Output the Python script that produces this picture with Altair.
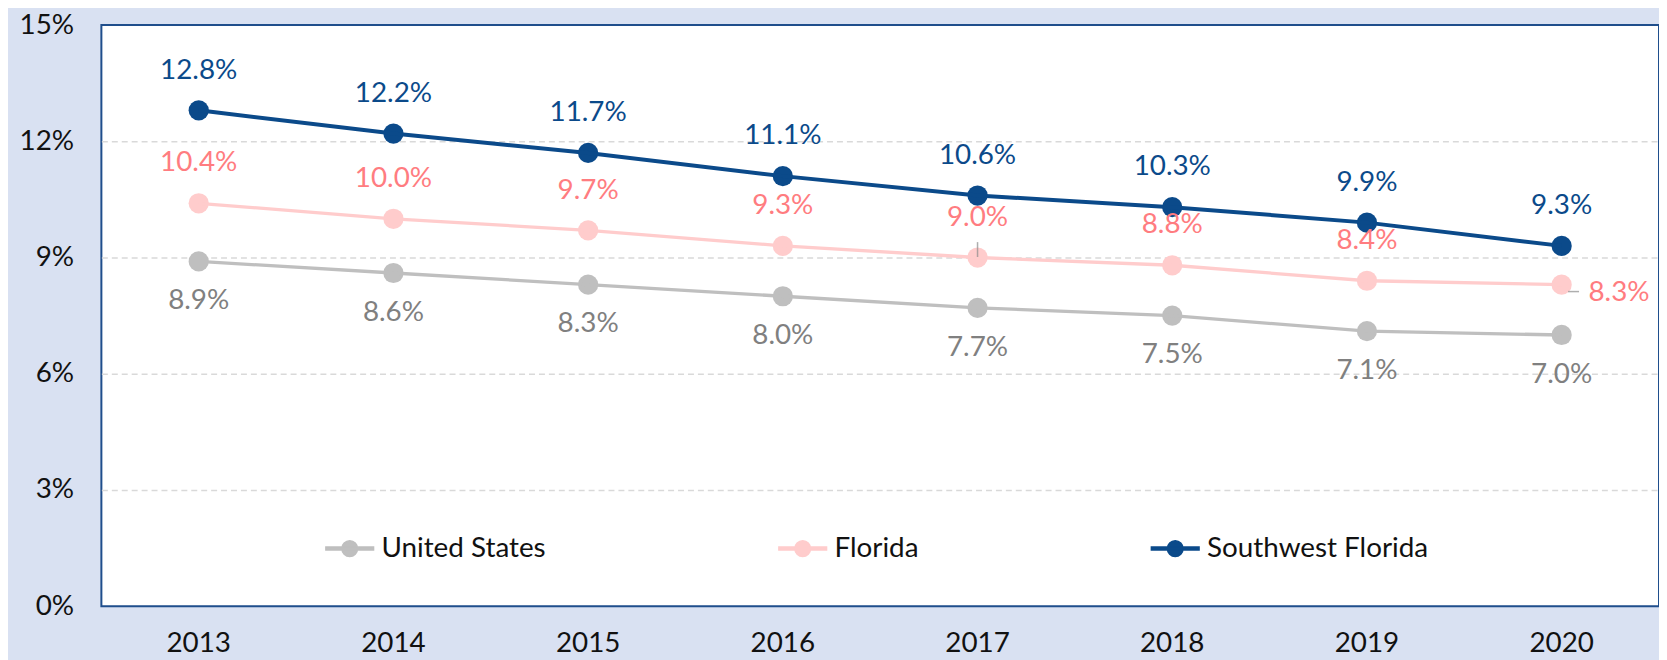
import altair as alt
import pandas as pd

years = ["2013", "2014", "2015", "2016", "2017", "2018", "2019", "2020"]
series_names = ["United States", "Florida", "Southwest Florida"]
us = [8.9, 8.6, 8.3, 8.0, 7.7, 7.5, 7.1, 7.0]
fl = [10.4, 10.0, 9.7, 9.3, 9.0, 8.8, 8.4, 8.3]
swfl = [12.8, 12.2, 11.7, 11.1, 10.6, 10.3, 9.9, 9.3]
y_ticks = [0, 3, 6, 9, 12, 15]

rows = []
for name, vals in zip(series_names, [us, fl, swfl]):
    for yr, v in zip(years, vals):
        rows.append({"year": yr, "series": name, "value": v, "label": f"{v:.1f}%"})
df = pd.DataFrame(rows)

FONT = "Lato"
FS = 28
line_colors = ["#BFBFBF", "#FFCCCC", "#0B4A8A"]

x = alt.X("year:O", title=None,
          axis=alt.Axis(labelAngle=0, labelFontSize=FS, labelFont=FONT, labelColor="#111111",
                        domain=False, ticks=False, labelPadding=24, grid=False))
y = alt.Y("value:Q", title=None,
          scale=alt.Scale(domain=[0, 15], nice=False),
          axis=alt.Axis(values=y_ticks, labelExpr="datum.value + '%'", labelFontSize=FS,
                        labelFont=FONT, labelColor="#111111", domain=False, ticks=False,
                        labelPadding=28, grid=True, gridColor="#D9D9D9", gridDash=[6, 4],
                        gridWidth=1.5,
                        gridOpacity={"condition": {"test": "datum.value == 0 || datum.value == 15",
                                                   "value": 0}, "value": 1}))

color_scale = alt.Scale(domain=series_names, range=line_colors)

legend = alt.Legend(
    orient="none", legendX=225, legendY=502, direction="horizontal", columns=3,
    title=None, padding=0,
    symbolType="M-1,-0.065L1,-0.065L1,0.065L-1,0.065ZM0.33,0C0.33,0.18,0.18,0.33,0,0.33C-0.18,0.33,-0.33,0.18,-0.33,0C-0.33,-0.18,-0.18,-0.33,0,-0.33C0.18,-0.33,0.33,-0.18,0.33,0Z",
    symbolSize=2304, symbolOpacity=1, labelFontSize=FS, labelFont=FONT,
    labelColor="#111111", labelOffset=7, columnPadding=231, labelLimit=600,
)

base = alt.Chart(df)

lines = base.mark_line().encode(
    x=x, y=y,
    stroke=alt.Stroke("series:N", scale=color_scale, legend=None),
    strokeWidth=alt.condition("datum.series == 'Southwest Florida'", alt.value(4), alt.value(3.3)),
)

points = base.mark_circle(size=415, opacity=1).encode(
    x=x, y=y,
    color=alt.Color("series:N", scale=color_scale, legend=legend),
)

us_text = base.transform_filter("datum.series == 'United States'").mark_text(
    dy=40, fontSize=FS, font=FONT, color="#808080").encode(x=x, y=y, text="label:N")

fl_text = base.transform_filter("datum.series == 'Florida' && datum.year != '2020'").mark_text(
    dy=-40, fontSize=FS, font=FONT, color="#FF7C80").encode(x=x, y=y, text="label:N")

fl_text_last = base.transform_filter("datum.series == 'Florida' && datum.year == '2020'").mark_text(
    dx=27, dy=8, align="left", fontSize=FS, font=FONT, color="#FF7C80").encode(x=x, y=y, text="label:N")

sw_text = base.transform_filter("datum.series == 'Southwest Florida'").mark_text(
    dy=-40, fontSize=FS, font=FONT, color="#0B4A8A").encode(x=x, y=y, text="label:N")

leader_v = base.transform_filter("datum.series == 'Florida' && datum.year == '2017'").mark_tick(
    orient="vertical", size=15, thickness=1.5, yOffset=-8, color="#8C8C8C").encode(x=x, y=y)

leader_h = base.transform_filter("datum.series == 'Florida' && datum.year == '2020'").mark_tick(
    orient="horizontal", size=11, thickness=1.5, xOffset=12, yOffset=7, color="#8C8C8C").encode(x=x, y=y)

chart = alt.layer(points, lines, leader_v, leader_h, us_text, fl_text, fl_text_last, sw_text).properties(
    width=1568, height=585,
    background="#D9E1F2",
    padding={"left": 11, "top": 1, "right": 0, "bottom": 0},
).configure_view(
    stroke="#1F4E8C", strokeWidth=2, fill="white"
)

chart.save("out.html", embed_options={"renderer": "svg", "actions": False})
